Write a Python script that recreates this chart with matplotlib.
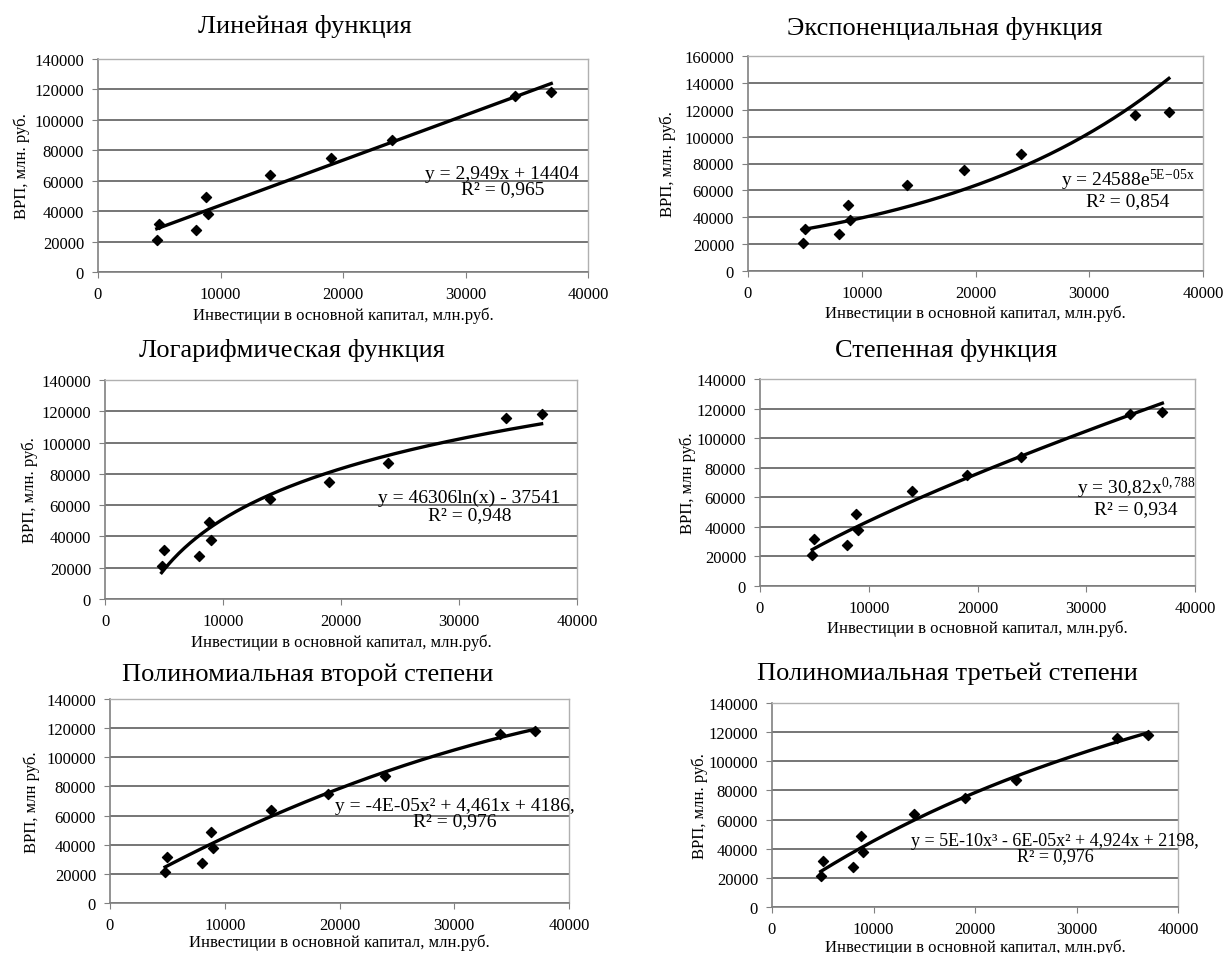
import numpy as np
import matplotlib
matplotlib.use("Agg")
import matplotlib.pyplot as plt

plt.rcParams['font.family'] = ['Liberation Serif', 'DejaVu Serif']
plt.rcParams['mathtext.fontset'] = 'custom'
plt.rcParams['mathtext.rm'] = 'Liberation Serif'
plt.rcParams['mathtext.it'] = 'Liberation Serif'

# Data
invest = [4800, 5000, 8000, 8800, 9000, 14000, 19000, 24000, 34000, 37000]
grp = [21000, 31500, 27500, 49000, 38000, 64000, 75000, 87000, 116000, 118000]

titles = ["Линейная функция", "Экспоненциальная функция",
          "Логарифмическая функция", "Степенная функция",
          "Полиномиальная второй степени", "Полиномиальная третьей степени"]
ylabels = ["ВРП, млн. руб.", "ВРП, млн. руб.", "ВРП, млн. руб.",
           "ВРП, млн руб.", "ВРП, млн руб.", "ВРП, млн. руб."]
xlabel = "Инвестиции в основной капитал, млн.руб."
equations = ["y = 2,949x + 14404",
             r"y = 24588e$^{\rm 5E\!-\!05x}$",
             "y = 46306ln(x) - 37541",
             r"y = 30,82x$^{\rm 0,788}$",
             "y = -4E-05x² + 4,461x + 4186,",
             "y = 5E-10x³ - 6E-05x² + 4,924x + 2198,"]
r2 = ["R² = 0,965", "R² = 0,854", "R² = 0,948", "R² = 0,934", "R² = 0,976", "R² = 0,976"]
ymax = [140000, 160000, 140000, 140000, 140000, 140000]
xticks = [0, 10000, 20000, 30000, 40000]

W, H = 1229, 954
# axes boxes in pixels: left, right, top, bottom
boxes = [(98, 588, 60, 273), (748, 1203, 57, 272),
         (105, 577, 381, 600), (760, 1195, 380, 587),
         (110, 569, 700, 904), (772, 1178, 704, 908)]
title_pos = [(305, 27), (945, 28), (292, 351), (946, 351), (308, 675), (947, 674)]
eq_pos = [(33000, 65000, 54500), (33400, 68500, 52300), (30870, 65250, 53800),
          (34570, 67000, 52300), (30030, 66570, 56300), (27880, 45300, 35000)]
eq_size = [14, 14, 14, 14, 14, 13]
ylab_x = [22, 668, 30, 688, 32, 700]
xlab_y = [316, 314, 643, 629, 943, 948]

x = np.array(invest, dtype=float)
y = np.array(grp, dtype=float)
xs = np.linspace(x.min(), x.max(), 200)


def trend(i):
    if i == 0:
        c = np.polyfit(x, y, 1)
        return np.polyval(c, xs)
    if i == 1:
        b, a = np.polyfit(x, np.log(y), 1)
        return np.exp(a) * np.exp(b * xs)
    if i == 2:
        c = np.polyfit(np.log(x), y, 1)
        return np.polyval(c, np.log(xs))
    if i == 3:
        b, a = np.polyfit(np.log(x), np.log(y), 1)
        return np.exp(a) * xs ** b
    if i == 4:
        c = np.polyfit(x, y, 2)
        return np.polyval(c, xs)
    c = np.polyfit(x, y, 3)
    return np.polyval(c, xs)


fig = plt.figure(figsize=(W / 100, H / 100), dpi=100)
for i in range(6):
    l, r, t, b = boxes[i]
    ax = fig.add_axes([l / W, 1 - b / H, (r - l) / W, (b - t) / H])
    ax.set_xlim(0, 40000)
    ax.set_ylim(0, ymax[i])
    ax.set_xticks(xticks)
    ax.set_yticks(np.arange(0, ymax[i] + 1, 20000))
    ax.yaxis.grid(True, color='#505050', lw=1.1)
    ax.set_axisbelow(True)
    for s in ['top', 'right']:
        ax.spines[s].set_color('#b0b0b0')
        ax.spines[s].set_linewidth(1.0)
    for s in ['left', 'bottom']:
        ax.spines[s].set_color('#808080')
        ax.spines[s].set_linewidth(1.2)
    ax.tick_params(axis='both', direction='out', length=4, color='#808080',
                   labelsize=12, pad=6)
    ax.plot(xs, trend(i), color='black', lw=2.4, zorder=3)
    ax.scatter(x, y, marker='D', s=26, color='black', zorder=4)
    ex, ey1, ey2 = eq_pos[i]
    ax.text(ex, ey1, equations[i], ha='center', va='center', fontsize=eq_size[i], zorder=5)
    ax.text(ex, ey2, r2[i], ha='center', va='center', fontsize=eq_size[i], zorder=5)
    fig.text(title_pos[i][0] / W, 1 - title_pos[i][1] / H, titles[i],
             ha='center', va='center', fontsize=19)
    fig.text(ylab_x[i] / W, 1 - ((t + b) / 2) / H, ylabels[i], rotation=90,
             ha='center', va='center', fontsize=12)
    fig.text(((l + r) / 2) / W, 1 - xlab_y[i] / H, xlabel,
             ha='center', va='center', fontsize=12)

fig.savefig("out.png", dpi=100, facecolor='white')
